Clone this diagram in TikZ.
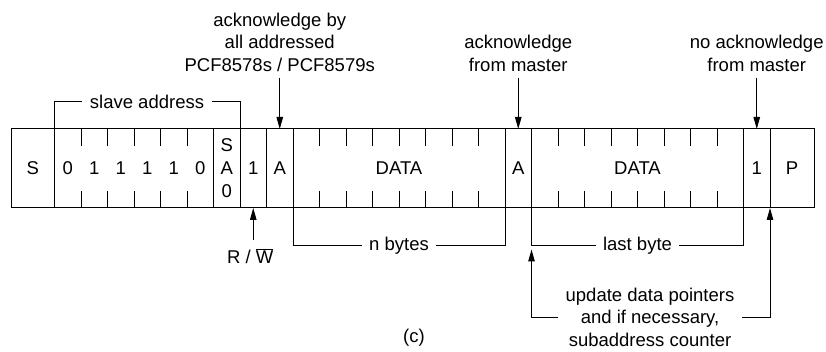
\documentclass[tikz,border=0pt]{standalone}
\usepackage{fontspec}
\setmainfont{Liberation Sans}
\usetikzlibrary{arrows.meta,positioning}

\begin{document}
\begin{tikzpicture}[x=1pt,y=-1pt,>={Triangle[length=12pt,width=6.5pt]},line width=1pt,
        every node/.style={font=\fontsize{18.5}{22.5}\selectfont},
        cell/.style={draw,minimum height=79pt,inner sep=0pt,outer sep=0pt},
        lbl/.style={align=center,inner sep=2pt},
        brk/.style={inner xsep=7pt,inner ysep=2pt}]
        \useasboundingbox (0,0) rectangle (826,352);

        % the frame
        \node[cell,anchor=north west,minimum width=43.5pt] (S) at (11,129) {S};
        \node[cell,minimum width=6*26.5pt,right=0pt of S]    (addr) {};
        \node[cell,minimum width=26.5pt,right=0pt of addr,align=center,
              font=\fontsize{18.5}{23}\selectfont]            (SA)   {S\\A\\0};
        \node[cell,minimum width=26.5pt,right=0pt of SA]     (RW)   {1};
        \node[cell,minimum width=26.5pt,right=0pt of RW]     (A1)   {A};
        \node[cell,minimum width=8*26.5pt,right=0pt of A1]   (D1)   {DATA};
        \node[cell,minimum width=26.5pt,right=0pt of D1]     (A2)   {A};
        \node[cell,minimum width=8*26.5pt,right=0pt of A2]   (D2)   {DATA};
        \node[cell,minimum width=26.5pt,right=0pt of D2]     (one)  {1};
        \node[cell,minimum width=44pt,right=0pt of one]      (P)    {P};

        \foreach \f/\n in {addr/5,D1/7,D2/7}
          \foreach \i in {1,...,\n} {
            \draw ([xshift=\i*26.5pt]\f.north west) -- ++(0,17);
            \draw ([xshift=\i*26.5pt]\f.south west) -- ++(0,-17);
          }
        \foreach \b [count=\i] in {0,1,1,1,1,0}
          \node (bit\i) at ([xshift=(\i-0.5)*26.5pt]addr.west) {\b};

        % brackets
        \node[brk] (slave) at (147,102) {slave address};
        \draw (addr.north west) |- (slave.west);
        \draw (slave.east) -| (SA.north east);

        \node[brk] (nbytes) at ([yshift=-38pt]D1.south) {n bytes};
        \draw (D1.south west) |- (nbytes.west);
        \draw (nbytes.east) -| (D1.south east);

        \node[brk] (lastb) at ([yshift=-38pt]D2.south) {last byte};
        \draw (D2.south west) |- (lastb.west);
        \draw (lastb.east) -| (D2.south east);

        % acknowledges
        \node[lbl,above=55pt of A1]  (ackall) {acknowledge by\\all addressed\\PCF8578s / PCF8579s};
        \node[lbl,above=55pt of A2]  (ackm)   {acknowledge\\from master};
        \node[lbl,above=55pt of one] (noack)  {no acknowledge\\from master};
        \draw[->,shorten <=4pt] (ackall) -- (A1);
        \draw[->,shorten <=4pt] (ackm) -- (A2);
        \draw[->,shorten <=4pt] (noack) -- (one);

        \node[lbl,below=38pt of RW,xshift=-3pt] (rwlbl) {R / $\overline{\mbox{W}}$};
        \draw[->,shorten <=6pt] (rwlbl.north -| RW.south) -- (RW.south);

        \node[lbl,inner xsep=7pt] (upd) at (650,317) {update data pointers\\and if necessary,\\subaddress counter};
        \draw[->,shorten >=3.5pt] (upd.west) -| (D2.south west |- lastb.west);
        \draw[->] (upd.east) -| (P.south west);

        \node (cap) at (414,338) {(c)};
\end{tikzpicture}
\end{document}
